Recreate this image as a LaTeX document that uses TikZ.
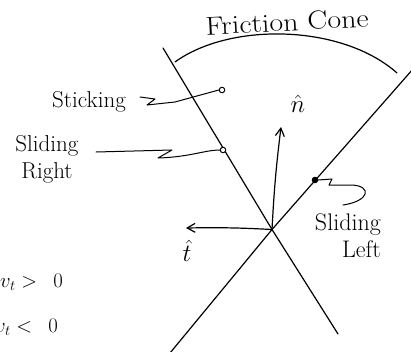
\documentclass[tikz,border=0pt]{standalone}
\usetikzlibrary{arrows.meta}
\begin{document}
\begin{tikzpicture}[x=1pt,y=-1pt,
  stroke/.style={line width=1.2pt, line cap=round, line join=round},
  pinline/.style={line width=1pt, line cap=round, line join=round},
  lbl/.style={font=\fontsize{23}{27}\selectfont, inner sep=0pt},
  mlbl/.style={font=\fontsize{22}{26}\selectfont, inner sep=0pt},
  vlbl/.style={font=\fontsize{28}{32}\selectfont, inner sep=0pt},
  dotopen/.style={circle, draw, line width=1pt, fill=white, inner sep=0pt, minimum size=5.5pt},
  dotfill/.style={circle, draw, line width=1pt, fill=black, inner sep=0pt, minimum size=5.5pt},
  vec/.style={stroke, -{Straight Barb[length=8pt,width=9pt,line width=1.2pt]}}]
\useasboundingbox (0,0) rectangle (411,351);
\clip (0,0) rectangle (411,351);

% cone boundaries
\coordinate (apex) at (272,229.5);
\coordinate (l1a) at (163,48);
\coordinate (l1b) at (338,334);
\coordinate (l2a) at (170,353);
\coordinate (l2b) at (413,69);
\draw[stroke] (l1a) -- (apex) -- (l1b);
\draw[stroke] (l2a) -- (apex) -- (l2b);

% friction cone arc and label
\coordinate (arcA) at (175,62);
\coordinate (arcB) at (397,73);
\draw[stroke] (arcA) .. controls (230,22) and (342,24) .. (arcB);
\node[lbl, font=\fontsize{26}{30}\selectfont, rotate=3, xscale=1.15] (fc) at (287,22) {Friction Cone};

% normal and tangent vectors
\coordinate (ntip) at (281,127);
\coordinate (ttip) at (186,228);
\draw[vec] (apex) to[bend left=2] (ntip);
\draw[vec] (apex) to[bend right=2] (ttip);
\node[vlbl] (nhat) at (298,104) {$\hat{n}$};
\node[vlbl] (that) at (187,251) {$\hat{t}$};

% points
\node[dotopen] (dstick) at (222,90) {};
\node[dotopen] (dsr) at (223,150) {};
\node[dotfill] (dsl) at (315,180) {};

% labels
\node[lbl, anchor=base west] (stick) at (52,107) {Sticking};
\node[lbl, align=center] (sr) at (47,159) {Sliding\\Right};
\node[lbl, font=\fontsize{24}{27}\selectfont, align=right, anchor=east] (sl) at (381,236) {Sliding\\Left};

% connectors
\coordinate (stickS) at (140,97);
\draw[pinline] (stickS) -- ++(15,2) -- ++(-8,6) -- ++(28,-3) -- (dstick.west);
\coordinate (srS) at (96,152);
\draw[pinline] (srS) -- ++(76,-2) -- ++(-14,8) .. controls (190,157) and (205,150) .. (dsr.west);
\coordinate (slE) at (343,205);
\draw[pinline] (dsl.east) -- (332,179) -- (329,185) -- (352,185) .. controls (372,186) and (370,201) .. (slE);

% conditions (cut off at the left edge)
\node[mlbl, anchor=base east] (cond1) at (63,287) {$v_t\mskip 5mu{>}\mskip 14mu 0$};
\node[mlbl, anchor=base east] (cond2) at (58,332) {$v_t\mskip 5mu{<}\mskip 14mu 0$};
\end{tikzpicture}
\end{document}
